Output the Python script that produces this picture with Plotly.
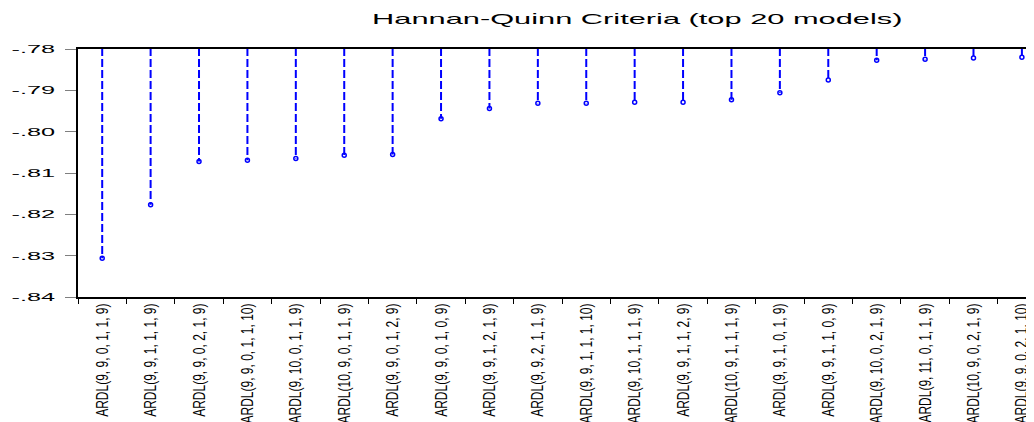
import plotly.graph_objects as go

models = [
    "ARDL(9, 9, 0, 1, 1, 9)",
    "ARDL(9, 9, 1, 1, 1, 9)",
    "ARDL(9, 9, 0, 2, 1, 9)",
    "ARDL(9, 9, 0, 1, 1, 10)",
    "ARDL(9, 10, 0, 1, 1, 9)",
    "ARDL(10, 9, 0, 1, 1, 9)",
    "ARDL(9, 9, 0, 1, 2, 9)",
    "ARDL(9, 9, 0, 1, 0, 9)",
    "ARDL(9, 9, 1, 2, 1, 9)",
    "ARDL(9, 9, 2, 1, 1, 9)",
    "ARDL(9, 9, 1, 1, 1, 10)",
    "ARDL(9, 10, 1, 1, 1, 9)",
    "ARDL(9, 9, 1, 1, 2, 9)",
    "ARDL(10, 9, 1, 1, 1, 9)",
    "ARDL(9, 9, 1, 0, 1, 9)",
    "ARDL(9, 9, 1, 1, 0, 9)",
    "ARDL(9, 10, 0, 2, 1, 9)",
    "ARDL(9, 11, 0, 1, 1, 9)",
    "ARDL(10, 9, 0, 2, 1, 9)",
    "ARDL(9, 9, 0, 2, 1, 10)",
]
hq_values = [
    -0.8306, -0.8177, -0.8072, -0.8069, -0.8065, -0.8057, -0.8055,
    -0.7969, -0.7944, -0.7931, -0.7931, -0.7929, -0.7929, -0.7923,
    -0.7906, -0.7875, -0.7827, -0.7825, -0.7822, -0.7820,
]
y_tick_vals = [-0.84, -0.83, -0.82, -0.81, -0.80, -0.79, -0.78]
y_tick_text = ["-.84", "-.83", "-.82", "-.81", "-.80", "-.79", "-.78"]
title_text = "Hannan-Quinn Criteria (top 20 models)"

# spike lines from zero down to each value (clipped to the plot area)
stem_x, stem_y = [], []
for i, v in enumerate(hq_values):
    stem_x += [models[i], models[i], None]
    stem_y += [0.0, v, None]

fig = go.Figure()
fig.add_trace(go.Scatter(
    x=stem_x, y=stem_y, mode="lines",
    line=dict(color="#0000FF", width=2, dash="8px,3px"),
    hoverinfo="skip", showlegend=False,
))
fig.add_trace(go.Scatter(
    x=models, y=hq_values, mode="markers",
    marker=dict(symbol="circle-open", size=4, color="#0000FF",
                line=dict(color="#0000FF", width=1.5)),
    showlegend=False,
))

# the page body has an 8px margin, so the figure is 8px smaller than the window
fig.update_layout(
    width=1026, height=414,
    margin=dict(l=70, r=0, t=41, b=125),
    paper_bgcolor="white", plot_bgcolor="white",
    font=dict(family="Liberation Sans, Arial, sans-serif", color="black"),
    title=dict(text=title_text, x=0.585, xref="paper", xanchor="center",
               y=1 - 11 / 414, yref="container", yanchor="middle",
               font=dict(size=14, color="black")),
    xaxis=dict(
        type="category", categoryorder="array", categoryarray=models,
        range=[-0.5, 19.25], automargin=False,
        showline=True, linecolor="black", linewidth=1.5, mirror=True,
        ticks="outside", tickson="boundaries", ticklen=5, tickcolor="black",
        tickangle=-90, tickfont=dict(size=12),
        showgrid=False, zeroline=False,
    ),
    yaxis=dict(
        range=[-0.84, -0.78], automargin=False,
        tickvals=y_tick_vals, ticktext=y_tick_text,
        showline=True, linecolor="black", linewidth=1.5,
        ticks="outside", ticklen=11, tickcolor="#7f7f7f", tickwidth=1,
        ticklabelstandoff=8,
        tickfont=dict(size=11),
        showgrid=False, zeroline=False,
    ),
)

# the reference picture is stretched horizontally; stretch the glyphs alike
stretch_js = """
(function(){
  var gd = document.querySelector('.js-plotly-plot');
  if (!gd) return;
  function st(el, sx, sy, anchor){
    var base = el.getAttribute('data-t0');
    if (base === null){ base = el.getAttribute('transform') || ''; el.setAttribute('data-t0', base); }
    var bb = el.getBBox();
    var cx = anchor === 'end' ? bb.x + bb.width : bb.x + bb.width / 2;
    var cy = bb.y + bb.height / 2;
    el.setAttribute('transform', base + ' translate(' + cx + ',' + cy + ') scale(' + sx + ',' + sy + ') translate(' + (-cx) + ',' + (-cy) + ')');
  }
  gd.querySelectorAll('.gtitle').forEach(function(e){ st(e, 2.2, 1, 'mid'); });
  gd.querySelectorAll('.ytick text').forEach(function(e){ st(e, 2.3, 1, 'end'); });
  gd.querySelectorAll('.xtick text').forEach(function(e){ st(e, 1, 1.4, 'mid'); });
})();
"""

fig.write_html("out.html", post_script=stretch_js)
